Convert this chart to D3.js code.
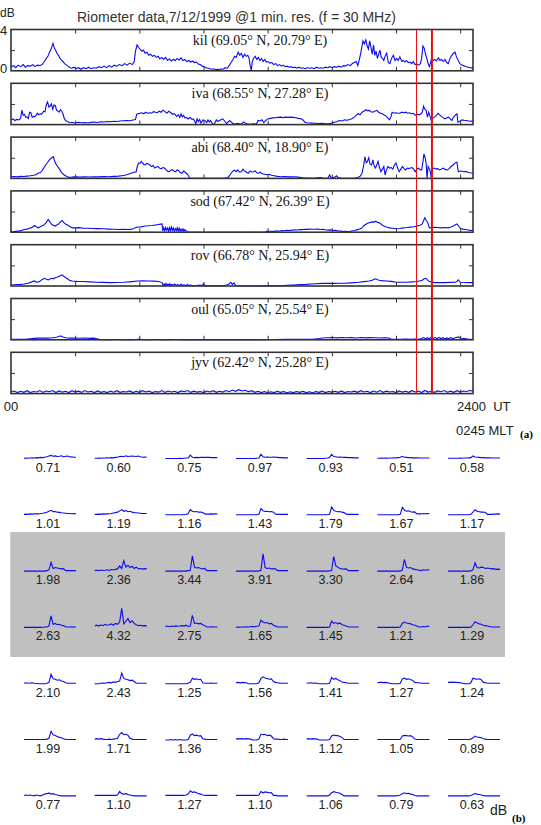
<!DOCTYPE html>
<html>
<head>
<meta charset="utf-8">
<script src="https://cdn.jsdelivr.net/npm/d3@7"></script>
<style>
  body { margin: 0; background: #fff; }
  svg { display: block; }
</style>
</head>
<body>
<svg id="chart" width="541" height="825"></svg>
<script>
// ---- data: riometer absorption (dB) per station, [minute UT, dB] ----
const stationLabels = ["kil (69.05° N, 20.79° E)", "iva (68.55° N, 27.28° E)", "abi (68.40° N, 18.90° E)",
  "sod (67.42° N, 26.39° E)", "rov (66.78° N, 25.94° E)", "oul (65.05° N, 25.54° E)", "jyv (62.42° N, 25.28° E)"];

const kil = [[0,0.4],[8,0.5],[15,0.3],[22,0.55],[30,0.4],[38,0.6],[45,0.35],[52,0.5],[60,0.45],[68,0.6],[75,0.4],[82,0.55],[90,0.5],[97,0.6],[104,0.9],[110,1.2],[115,1.4],[120,1.8],[125,2.1],[131,2.65],[135,2.2],[139,2.0],[143,1.7],[148,1.5],[153,1.2],[158,1.0],[162,0.9],[167,0.7],[171,0.6],[177,0.45],[184,0.3],[190,0.25],[196,0.35],[202,0.2],[210,0.3],[218,0.15],[226,0.3],[234,0.2],[242,0.35],[250,0.2],[258,0.3],[266,0.25],[274,0.4],[282,0.3],[290,0.45],[298,0.3],[306,0.5],[314,0.35],[322,0.55],[330,0.45],[338,0.6],[346,0.5],[354,0.7],[362,0.55],[370,0.75],[378,0.6],[384,0.9],[388,1.9],[393,2.5],[397,2.3],[402,2.1],[408,1.9],[413,2.0],[418,1.7],[424,1.8],[429,1.5],[435,1.6],[441,1.4],[447,1.5],[453,1.3],[459,1.4],[464,1.15],[470,1.3],[476,1.1],[482,1.3],[488,1.0],[494,1.15],[500,0.95],[506,1.1],[512,1.0],[518,1.2],[524,1.05],[530,1.25],[536,1.0],[542,1.1],[548,0.9],[554,1.0],[560,0.85],[566,0.95],[572,0.8],[578,0.85],[584,0.65],[590,0.6],[596,0.45],[602,0.4],[608,0.3],[614,0.25],[620,0.2],[626,0.15],[632,0.2],[638,0.1],[644,0.15],[650,0.1],[656,0.2],[662,0.15],[668,0.3],[674,0.25],[680,0.5],[686,0.8],[692,1.1],[697,1.4],[702,1.3],[708,1.8],[713,1.5],[718,1.7],[723,1.3],[728,1.6],[733,1.4],[738,1.5],[742,1.2],[746,0.4],[749,0.05],[752,0.9],[756,1.2],[761,1.4],[766,1.1],[771,1.3],[776,1.0],[781,1.2],[786,0.9],[791,1.1],[796,0.85],[801,0.9],[807,0.75],[813,0.8],[819,0.6],[825,0.7],[831,0.5],[837,0.6],[843,0.45],[849,0.55],[855,0.4],[861,0.45],[867,0.35],[873,0.4],[879,0.3],[885,0.35],[891,0.25],[897,0.35],[903,0.25],[910,0.3],[917,0.2],[924,0.3],[931,0.25],[938,0.3],[945,0.2],[952,0.35],[959,0.25],[966,0.3],[973,0.25],[980,0.35],[987,0.3],[994,0.4],[1001,0.3],[1008,0.4],[1015,0.35],[1022,0.45],[1029,0.35],[1036,0.5],[1043,0.45],[1050,0.6],[1057,0.5],[1064,0.7],[1070,0.8],[1076,0.9],[1081,0.5],[1088,1.4],[1093,2.2],[1097,2.9],[1101,2.6],[1106,3.0],[1110,2.4],[1114,2.1],[1118,2.9],[1122,2.3],[1126,1.6],[1130,2.5],[1134,1.5],[1138,1.9],[1142,1.2],[1146,1.6],[1150,2.0],[1154,1.3],[1158,1.2],[1162,1.0],[1166,1.4],[1171,1.7],[1176,0.8],[1181,0.7],[1186,1.2],[1192,1.5],[1197,1.0],[1202,1.2],[1207,1.0],[1212,1.35],[1218,0.9],[1223,1.0],[1228,0.85],[1233,1.0],[1238,0.8],[1244,0.85],[1249,0.7],[1254,0.9],[1259,0.6],[1264,0.65],[1270,0.55],[1276,0.7],[1280,1.2],[1284,2.4],[1288,2.2],[1292,1.6],[1296,1.2],[1300,0.7],[1304,0.4],[1308,0.8],[1311,1.2],[1316,1.0],[1321,1.1],[1326,0.95],[1332,1.25],[1337,1.0],[1342,1.1],[1347,0.9],[1353,1.1],[1358,0.8],[1363,0.7],[1368,1.2],[1374,1.5],[1379,1.7],[1384,1.8],[1389,1.3],[1394,1.0],[1399,0.7],[1405,0.55],[1410,0.5],[1415,0.45],[1420,0.4],[1426,0.35],[1431,0.3],[1436,0.28],[1440,0.26]];

const iva = [[0,0.45],[6,0.55],[12,0.4],[18,0.5],[24,0.45],[30,0.6],[34,1.4],[38,0.9],[42,1.0],[46,0.7],[50,0.75],[54,0.6],[58,1.2],[62,1.15],[66,0.7],[70,0.8],[74,0.75],[78,0.9],[82,1.1],[86,0.95],[90,1.05],[94,1.0],[98,1.1],[102,1.3],[106,1.25],[110,1.9],[114,2.2],[118,1.7],[122,1.8],[126,2.0],[130,1.5],[134,1.9],[138,1.85],[142,1.4],[146,1.3],[150,1.2],[154,1.45],[158,1.3],[162,1.05],[166,0.6],[170,0.4],[175,0.3],[181,0.22],[190,0.2],[200,0.15],[210,0.22],[220,0.18],[230,0.2],[240,0.15],[250,0.22],[260,0.25],[270,0.2],[280,0.27],[290,0.25],[300,0.3],[310,0.28],[320,0.33],[330,0.3],[340,0.35],[350,0.38],[360,0.4],[370,0.38],[380,0.45],[388,0.5],[392,1.0],[396,1.05],[402,1.1],[408,1.15],[414,1.05],[420,1.2],[426,1.1],[432,1.15],[438,1.1],[444,1.25],[450,1.2],[456,1.15],[462,1.3],[468,1.2],[474,1.4],[480,1.25],[486,1.1],[492,1.3],[498,1.15],[504,1.0],[510,1.05],[516,0.8],[522,0.95],[526,0.7],[530,1.05],[534,0.75],[538,0.9],[542,0.65],[546,0.7],[552,0.55],[558,0.7],[564,0.5],[568,0.55],[572,0.4],[576,0.05],[580,0.55],[584,0.3],[588,0.5],[592,0.13],[598,0.45],[604,0.4],[610,0.2],[614,0.45],[618,0.25],[622,0.4],[628,0.05],[634,0.07],[640,0.46],[644,0.3],[650,0.4],[656,0.5],[660,0.56],[666,0.35],[672,0.1],[676,0.23],[682,0.4],[688,0.2],[694,0.07],[700,0.05],[706,0.13],[712,0.07],[718,0.05],[724,0.23],[730,0.15],[736,0.08],[742,0.05],[748,0.02],[754,0.07],[760,0.05],[766,0.1],[770,0.4],[776,0.35],[782,0.46],[788,0.2],[794,0.4],[800,0.55],[808,0.6],[816,0.65],[824,0.66],[832,0.7],[840,0.72],[848,0.68],[856,0.72],[864,0.7],[872,0.72],[880,0.7],[888,0.66],[896,0.6],[904,0.56],[910,0.45],[916,0.23],[922,0.18],[930,0.16],[940,0.14],[950,0.13],[960,0.1],[970,0.12],[980,0.08],[990,0.07],[1000,0.15],[1008,0.23],[1016,0.3],[1024,0.4],[1032,0.35],[1040,0.46],[1048,0.42],[1056,0.5],[1064,0.6],[1070,0.72],[1076,0.9],[1082,1.05],[1088,0.95],[1094,1.2],[1100,1.3],[1106,1.45],[1110,1.35],[1116,1.38],[1122,1.25],[1128,1.2],[1134,1.3],[1140,1.38],[1146,1.2],[1152,1.1],[1158,1.05],[1164,0.9],[1170,0.8],[1176,0.6],[1180,0.46],[1184,0.72],[1188,1.2],[1194,1.1],[1200,1.15],[1206,1.1],[1212,1.1],[1218,1.2],[1224,1.15],[1230,1.2],[1236,1.1],[1242,1.15],[1248,1.05],[1254,1.1],[1260,0.9],[1266,1.0],[1272,0.95],[1278,1.05],[1282,1.2],[1286,1.77],[1290,1.5],[1294,1.38],[1298,0.72],[1302,1.2],[1306,0.8],[1310,0.4],[1314,0.6],[1320,0.72],[1326,0.9],[1331,1.1],[1336,0.95],[1341,0.8],[1346,0.7],[1352,0.56],[1358,0.65],[1363,0.72],[1368,0.6],[1374,0.4],[1379,0.7],[1384,0.9],[1390,1.05],[1393,0.23],[1398,0.3],[1406,0.46],[1412,0.42],[1418,0.4],[1424,0.38],[1430,0.33],[1436,0.35],[1440,0.33]];

const abi = [[0,0.15],[10,0.18],[20,0.15],[30,0.2],[40,0.18],[50,0.22],[60,0.25],[70,0.3],[78,0.35],[84,0.5],[90,0.55],[95,0.65],[100,0.9],[105,1.15],[110,1.4],[116,1.64],[121,1.85],[127,2.0],[132,2.1],[135,1.8],[138,1.5],[143,1.25],[149,1.0],[154,0.75],[159,0.5],[165,0.35],[170,0.26],[176,0.15],[181,0.1],[190,0.12],[200,0.15],[215,0.12],[230,0.15],[245,0.14],[260,0.16],[275,0.15],[290,0.17],[305,0.16],[320,0.2],[335,0.22],[345,0.26],[355,0.3],[365,0.4],[374,0.5],[383,0.6],[390,0.65],[394,1.2],[398,1.5],[402,1.45],[406,1.64],[410,1.5],[414,1.35],[418,1.3],[423,1.45],[428,1.4],[433,1.3],[438,1.15],[443,1.25],[448,1.0],[453,1.1],[458,1.15],[463,1.0],[468,0.92],[473,1.05],[478,1.0],[483,0.85],[488,0.7],[493,0.65],[498,0.8],[503,0.85],[508,0.7],[513,0.65],[518,0.82],[523,0.75],[528,0.55],[533,0.5],[538,0.72],[543,0.6],[548,0.45],[552,0.33],[556,0.07],[562,0.02],[575,0.01],[590,0.02],[605,0.01],[620,0.02],[635,0.01],[650,0.02],[665,0.03],[675,0.05],[681,0.26],[686,0.5],[692,0.72],[697,0.8],[702,0.65],[707,0.82],[712,0.6],[718,0.65],[723,0.9],[728,0.7],[734,0.6],[740,0.5],[745,0.72],[750,0.62],[756,0.65],[761,0.72],[766,0.55],[772,0.5],[777,0.6],[783,0.45],[790,0.4],[797,0.35],[804,0.4],[812,0.3],[820,0.26],[830,0.2],[840,0.16],[852,0.18],[865,0.15],[880,0.16],[895,0.12],[910,0.07],[925,0.04],[940,0.02],[955,0.05],[965,0.07],[975,0.02],[987,0.0],[993,0.33],[998,0.05],[1008,0.1],[1015,0.26],[1020,0.05],[1030,0.0],[1041,0.02],[1055,0.01],[1068,0.02],[1080,0.07],[1088,0.2],[1094,0.5],[1099,1.2],[1103,2.1],[1107,1.5],[1111,1.64],[1115,2.0],[1119,1.4],[1124,1.3],[1128,1.8],[1132,1.2],[1136,1.0],[1140,1.3],[1144,1.64],[1148,1.1],[1153,0.65],[1158,0.9],[1162,1.15],[1166,0.33],[1170,0.8],[1175,1.15],[1180,1.0],[1185,1.05],[1190,0.9],[1195,1.3],[1200,1.5],[1205,1.0],[1210,0.65],[1215,0.9],[1220,1.15],[1225,0.95],[1230,0.82],[1235,1.0],[1240,0.95],[1245,1.0],[1250,1.05],[1255,0.9],[1260,0.65],[1265,0.9],[1270,1.0],[1275,0.85],[1280,0.82],[1284,1.6],[1287,2.36],[1291,2.0],[1294,1.4],[1297,0.0],[1300,1.15],[1304,0.9],[1307,0.65],[1310,0.0],[1313,0.9],[1318,1.0],[1324,0.92],[1330,0.95],[1336,0.82],[1342,0.9],[1348,1.0],[1354,0.85],[1360,0.82],[1366,0.95],[1372,1.15],[1378,1.3],[1384,1.5],[1390,1.57],[1394,0.65],[1400,0.72],[1406,0.7],[1412,0.65],[1418,0.68],[1424,0.6],[1430,0.55],[1436,0.52],[1440,0.5]];

const sod = [[0,0.03],[10,0.06],[20,0.1],[30,0.15],[41,0.26],[50,0.3],[56,0.38],[62,0.42],[68,0.5],[73,0.65],[78,0.55],[84,0.42],[90,0.5],[95,0.6],[100,0.65],[105,0.75],[110,0.95],[116,1.24],[121,1.0],[127,0.75],[132,0.68],[138,0.6],[143,0.7],[149,0.8],[154,1.0],[159,1.14],[164,0.95],[170,0.8],[176,0.7],[181,0.6],[186,0.5],[191,0.42],[200,0.42],[213,0.44],[225,0.38],[240,0.38],[255,0.36],[270,0.35],[288,0.33],[305,0.3],[320,0.28],[335,0.26],[350,0.27],[365,0.26],[374,0.27],[382,0.35],[390,0.45],[396,0.5],[405,0.52],[417,0.6],[428,0.62],[439,0.65],[450,0.7],[460,0.75],[466,0.78],[471,0.8],[473,0.12],[476,0.42],[479,0.15],[482,0.45],[485,0.2],[488,0.4],[491,0.1],[494,0.45],[497,0.15],[500,0.5],[503,0.2],[506,0.4],[509,0.1],[512,0.35],[515,0.15],[518,0.42],[521,0.12],[524,0.38],[527,0.1],[530,0.3],[533,0.12],[536,0.32],[539,0.08],[542,0.25],[546,0.15],[550,0.02],[560,0.0],[600,0.0],[650,0.0],[700,0.0],[750,0.0],[793,0.01],[798,0.1],[804,0.05],[810,0.12],[816,0.06],[822,0.1],[828,0.12],[836,0.1],[844,0.16],[852,0.14],[860,0.18],[868,0.16],[876,0.2],[884,0.23],[892,0.22],[900,0.26],[908,0.25],[916,0.29],[924,0.27],[932,0.3],[940,0.28],[948,0.29],[956,0.3],[964,0.26],[972,0.27],[980,0.23],[988,0.2],[996,0.22],[1004,0.16],[1012,0.18],[1020,0.12],[1028,0.1],[1036,0.06],[1044,0.08],[1051,0.03],[1058,0.1],[1066,0.14],[1073,0.16],[1080,0.25],[1087,0.3],[1094,0.42],[1099,0.6],[1105,0.75],[1110,0.85],[1116,0.91],[1121,0.95],[1127,1.0],[1132,0.98],[1137,1.07],[1142,0.95],[1148,0.91],[1153,0.8],[1159,0.65],[1166,0.55],[1173,0.48],[1180,0.42],[1190,0.38],[1201,0.33],[1212,0.36],[1223,0.42],[1234,0.45],[1245,0.49],[1256,0.52],[1266,0.6],[1275,0.68],[1282,0.8],[1287,1.2],[1290,1.4],[1294,1.15],[1299,0.91],[1304,0.42],[1312,0.45],[1320,0.48],[1330,0.45],[1342,0.42],[1352,0.45],[1363,0.42],[1372,0.5],[1379,0.6],[1385,0.72],[1390,0.8],[1395,0.6],[1401,0.36],[1408,0.3],[1417,0.26],[1425,0.22],[1432,0.18],[1440,0.16]];

const rov = [[0,0.1],[10,0.12],[20,0.14],[30,0.16],[41,0.2],[52,0.26],[62,0.35],[68,0.45],[73,0.49],[78,0.4],[84,0.36],[90,0.45],[95,0.59],[100,0.68],[105,0.75],[110,0.65],[116,0.59],[121,0.68],[127,0.75],[132,0.7],[138,0.82],[143,0.85],[149,0.92],[154,1.0],[159,1.08],[164,0.95],[170,0.82],[176,0.7],[181,0.59],[186,0.52],[191,0.49],[205,0.45],[224,0.43],[245,0.4],[267,0.36],[288,0.35],[310,0.33],[330,0.34],[353,0.36],[375,0.42],[396,0.49],[410,0.5],[428,0.49],[445,0.47],[460,0.43],[471,0.33],[474,0.05],[477,0.2],[480,0.08],[483,0.25],[486,0.05],[489,0.18],[492,0.1],[495,0.22],[498,0.05],[501,0.15],[505,0.08],[510,0.2],[515,0.05],[520,0.15],[525,0.04],[530,0.18],[535,0.05],[540,0.12],[545,0.03],[550,0.16],[555,0.04],[560,0.1],[567,0.02],[578,0.05],[589,0.1],[595,0.02],[600,0.2],[605,0.02],[611,0.05],[625,0.02],[640,0.03],[655,0.02],[664,0.02],[672,0.1],[680,0.2],[685,0.35],[690,0.15],[695,0.3],[700,0.05],[710,0.02],[730,0.0],[760,0.0],[790,0.01],[820,0.02],[847,0.03],[858,0.06],[880,0.1],[901,0.13],[920,0.16],[933,0.2],[950,0.22],[970,0.25],[987,0.26],[1005,0.25],[1025,0.27],[1041,0.26],[1060,0.3],[1084,0.36],[1100,0.42],[1116,0.49],[1126,0.55],[1132,0.65],[1137,0.69],[1142,0.6],[1148,0.56],[1158,0.52],[1169,0.49],[1185,0.45],[1201,0.36],[1218,0.37],[1234,0.36],[1250,0.4],[1266,0.43],[1275,0.5],[1282,0.56],[1288,0.7],[1293,0.75],[1298,0.6],[1304,0.43],[1312,0.38],[1320,0.33],[1336,0.34],[1352,0.33],[1368,0.35],[1385,0.36],[1390,0.45],[1394,0.59],[1398,0.45],[1401,0.36],[1415,0.34],[1428,0.33],[1440,0.33]];

const oul = [[0,0.05],[15,0.04],[30,0.06],[45,0.05],[60,0.1],[73,0.14],[85,0.16],[100,0.18],[115,0.16],[130,0.2],[142,0.25],[150,0.34],[156,0.36],[162,0.28],[170,0.2],[185,0.16],[200,0.18],[215,0.15],[230,0.17],[245,0.14],[258,0.16],[267,0.1],[275,0.04],[300,0.02],[330,0.03],[360,0.02],[390,0.03],[400,0.08],[405,0.03],[420,0.02],[450,0.03],[480,0.02],[510,0.03],[540,0.02],[570,0.01],[600,0.02],[630,0.01],[660,0.02],[700,0.01],[740,0.02],[780,0.02],[820,0.03],[860,0.04],[900,0.05],[940,0.06],[962,0.12],[970,0.18],[985,0.2],[1000,0.22],[1015,0.19],[1030,0.22],[1045,0.2],[1060,0.21],[1075,0.18],[1090,0.22],[1105,0.19],[1120,0.21],[1135,0.2],[1150,0.18],[1165,0.2],[1178,0.17],[1185,0.05],[1200,0.06],[1215,0.05],[1230,0.08],[1245,0.06],[1260,0.07],[1270,0.05],[1280,0.12],[1286,0.22],[1292,0.1],[1298,0.2],[1304,0.08],[1310,0.25],[1316,0.12],[1322,0.22],[1328,0.1],[1334,0.24],[1340,0.12],[1346,0.2],[1352,0.08],[1358,0.18],[1364,0.1],[1370,0.22],[1376,0.12],[1385,0.2],[1395,0.28],[1402,0.1],[1412,0.12],[1424,0.08],[1440,0.06]];

// jyv sampled every 10 minutes
const jyvValues = [0.15,0.25,0.1,0.22,0.12,0.28,0.1,0.2,0.15,0.3,
  0.12,0.25,0.18,0.3,0.1,0.26,0.14,0.22,0.1,0.28,
  0.15,0.24,0.12,0.3,0.16,0.22,0.1,0.26,0.12,0.2,
  0.1,0.24,0.14,0.28,0.12,0.2,0.15,0.26,0.1,0.22,
  0.12,0.28,0.16,0.24,0.1,0.2,0.14,0.3,0.12,0.25,
  0.15,0.22,0.1,0.26,0.18,0.3,0.12,0.24,0.14,0.2,
  0.1,0.25,0.16,0.28,0.12,0.22,0.15,0.3,0.18,0.34,
  0.22,0.38,0.25,0.32,0.18,0.28,0.12,0.22,0.1,0.2,
  0.08,0.18,0.1,0.22,0.12,0.2,0.08,0.18,0.1,0.2,
  0.12,0.22,0.1,0.18,0.08,0.2,0.12,0.24,0.1,0.2,
  0.14,0.22,0.12,0.26,0.1,0.2,0.15,0.24,0.12,0.28,
  0.16,0.22,0.1,0.25,0.14,0.3,0.12,0.24,0.15,0.2,
  0.1,0.26,0.14,0.22,0.12,0.28,0.16,0.24,0.1,0.3,
  0.15,0.22,0.12,0.26,0.18,0.3,0.14,0.24,0.12,0.28,
  0.15,0.25,0.2,0.3,0.22];
const jyv = jyvValues.map((v, i) => [i * 10, v]);

const stationSeries = [kil, iva, abi, sod, rov, oul, jyv];
const xTickMinutes = [200, 400, 600, 800, 1000, 1200, 1400];
const markerMinutes = [1264, 1312];

// ---- data: (b) grid of small traces, peak absorption labels ----
const gridLabels = [
  ["0.71","0.60","0.75","0.97","0.93","0.51","0.58"],
  ["1.01","1.19","1.16","1.43","1.79","1.67","1.17"],
  ["1.98","2.36","3.44","3.91","3.30","2.64","1.86"],
  ["2.63","4.32","2.75","1.65","1.45","1.21","1.29"],
  ["2.10","2.43","1.25","1.56","1.41","1.27","1.24"],
  ["1.99","1.71","1.36","1.35","1.12","1.05","0.89"],
  ["0.77","1.10","1.27","1.10","1.06","0.79","0.63"]
];

const gridTraces = [
  [
    [0.05,0.1,0.05,0.1,0.15,0.1,0.2,0.15,0.25,0.2,0.3,0.4,0.55,0.71,0.5,0.6,0.45,0.5,0.6,0.4,0.5,0.55,0.35,0.4,0.3,0.3],
    [0.05,0.05,0.1,0.05,0.1,0.1,0.15,0.1,0.2,0.15,0.25,0.3,0.45,0.5,0.4,0.6,0.45,0.5,0.55,0.5,0.45,0.55,0.4,0.3,0.35,0.3],
    [0,0,0,0,0,0,0,0.05,0,0.05,0.1,0.1,0.75,0.3,0.2,0.25,0.2,0.25,0.3,0.25,0.3,0.25,0.2,0.2,0.2,0.2],
    [0,0,0,0,0,0,0,0,0,0,0.05,0.1,0.97,0.4,0.3,0.35,0.3,0.3,0.35,0.3,0.25,0.2,0.2,0.15,0.15,0.15],
    [0,0,0,0,0,0,0,0,0,0.05,0.1,0.2,0.93,0.45,0.4,0.3,0.35,0.3,0.25,0.25,0.2,0.2,0.2,0.15,0.15,0.15],
    [0.05,0.05,0.1,0.05,0.1,0.05,0.1,0.1,0.15,0.1,0.2,0.3,0.51,0.3,0.25,0.2,0.2,0.15,0.15,0.15,0.1,0.1,0.1,0.1,0.1,0.1],
    [0.05,0.05,0.05,0.05,0.05,0.05,0.1,0.05,0.1,0.1,0.15,0.2,0.58,0.35,0.3,0.25,0.2,0.2,0.15,0.15,0.15,0.1,0.1,0.1,0.1,0.1]
  ],
  [
    [0.1,0.15,0.1,0.2,0.15,0.2,0.25,0.2,0.3,0.35,0.45,0.6,0.8,1.01,0.7,0.75,0.6,0.55,0.45,0.4,0.35,0.3,0.3,0.25,0.3,0.25],
    [0.1,0.1,0.15,0.1,0.2,0.15,0.2,0.25,0.3,0.4,0.5,0.6,0.9,1.19,0.8,0.95,0.7,0.8,0.6,0.5,0.45,0.4,0.35,0.3,0.3,0.3],
    [0,0,0,0,0,0,0,0,0,0,0.05,0.3,1.16,0.8,0.7,0.75,0.6,0.65,0.5,0.2,0.15,0.15,0.2,0.15,0.2,0.2],
    [0,0,0,0,0,0,0,0,0,0,0,0.1,1.43,0.9,0.75,0.8,0.7,0.75,0.6,0.15,0.1,0.1,0.1,0.1,0.1,0.1],
    [0,0,0,0,0,0,0,0,0,0,0,0.1,1.79,1.0,0.8,0.7,0.75,0.6,0.5,0.15,0.1,0.1,0.1,0.1,0.1,0.1],
    [0,0,0,0,0,0,0,0,0,0,0,0.1,1.67,1.1,0.8,0.9,0.7,0.6,0.65,0.2,0.25,0.2,0.3,0.25,0.3,0.25],
    [0,0,0,0,0,0,0,0,0,0,0,0.1,0.6,1.17,0.8,0.7,0.6,0.65,0.5,0.1,0.1,0.1,0.15,0.15,0.2,0.15]
  ],
  [
    [0,0,0,0,0,0,0,0,0,0,0,0.1,0.3,1.98,0.6,0.8,0.7,0.6,0.5,0.55,0.1,0.1,0.1,0.1,0.1,0.1],
    [0.1,0.2,0.1,0.25,0.15,0.2,0.3,0.15,0.35,0.25,0.4,0.5,1.2,0.6,2.36,0.9,1.3,0.8,1.1,0.6,0.9,0.5,0.6,0.45,0.55,0.5],
    [0,0,0,0,0,0,0,0,0,0,0,0.1,0.2,3.44,0.9,0.7,0.8,0.6,0.5,0.6,0.1,0.1,0.1,0.15,0.1,0.1],
    [0,0,0,0,0,0,0,0,0,0,0,0.05,0.2,3.91,0.8,0.6,0.7,0.5,0.55,0.5,0.1,0.1,0.15,0.1,0.1,0.1],
    [0,0,0,0,0,0,0,0,0,0,0,0.05,0.2,3.30,1.2,0.9,0.6,0.5,0.45,0.5,0.1,0.1,0.1,0.1,0.1,0.1],
    [0,0,0,0,0,0,0,0,0,0,0,0,0.2,2.64,0.9,0.7,0.8,0.5,0.4,0.3,0.2,0.1,0.3,0.2,0.3,0.25],
    [0,0,0,0,0,0,0,0,0,0,0,0.05,0.3,1.86,0.8,0.7,0.9,0.8,0.6,0.7,0.6,0.5,0.55,0.4,0.45,0.4]
  ],
  [
    [0,0,0,0,0,0,0,0,0,0.05,0.1,0.1,0.3,2.63,0.7,0.9,0.6,0.7,0.5,0.4,0.1,0.1,0.1,0.15,0.1,0.1],
    [0.3,0.5,0.3,0.6,0.4,0.7,0.5,0.6,0.8,0.5,0.9,0.7,1.2,4.32,0.8,1.4,2.0,1.1,1.5,0.9,0.6,0.4,0.5,0.35,0.4,0.35],
    [0.2,0.3,0.15,0.3,0.2,0.35,0.25,0.3,0.4,0.3,0.5,0.2,0.3,2.75,0.9,1.0,0.8,0.9,0.6,0.4,0.1,0.1,0.15,0.1,0.1,0.1],
    [0.05,0.1,0.05,0.1,0.1,0.15,0.1,0.15,0.2,0.15,0.25,0.3,1.65,1.2,1.0,1.1,0.8,0.9,0.5,0.3,0.1,0.1,0.1,0.1,0.1,0.1],
    [0,0,0,0,0,0,0,0,0,0,0,0.1,1.45,0.9,1.1,0.8,1.0,0.6,0.5,0.3,0.1,0.1,0.1,0.1,0.1,0.1],
    [0,0,0,0,0,0,0,0,0,0,0,0.1,0.9,1.21,1.0,0.9,0.8,0.6,0.5,0.3,0.1,0.1,0.2,0.1,0.3,0.2],
    [0,0,0,0,0,0,0,0,0,0,0,0.05,0.6,1.29,1.0,0.8,0.7,0.5,0.4,0.3,0.2,0.1,0.1,0.1,0.1,0.1]
  ],
  [
    [0.1,0.2,0.1,0.15,0.2,0.1,0.05,0,0,0,0,0.1,0.3,2.10,1.1,1.0,0.8,0.9,0.6,0.5,0.2,0.1,0.1,0.1,0.1,0.1],
    [0,0,0,0.1,0.15,0.1,0.2,0.3,0.2,0.4,0.3,0.5,0.6,2.43,1.2,1.0,0.9,0.7,0.8,0.5,0.1,0.1,0.1,0.1,0.1,0.1],
    [0,0,0,0,0,0,0,0,0,0,0,0.1,0.3,1.25,1.0,1.1,0.9,1.0,0.2,0.1,0.1,0.1,0.15,0.1,0.1,0.1],
    [0.2,0.3,0.2,0.3,0.25,0.2,0,0,0,0,0,0.2,1.2,1.56,1.3,1.2,1.0,1.1,0.5,0.3,0.2,0.1,0.1,0.1,0.1,0.1],
    [0.1,0.15,0.2,0.1,0.15,0.1,0,0,0,0,0,0.1,1.41,1.0,1.2,0.9,0.7,0.4,0.3,0.2,0.1,0.1,0.1,0.1,0.1,0.1],
    [0.2,0.3,0.3,0.25,0.3,0.2,0.1,0,0,0,0,0.1,1.1,1.27,1.0,1.1,0.9,0.8,0.3,0.2,0.2,0.1,0.1,0.1,0.1,0.1],
    [0.3,0.3,0.35,0.3,0.3,0.25,0.2,0.1,0,0,0,0.2,1.24,1.1,1.0,1.1,0.9,0.3,0.2,0.1,0.1,0.1,0.1,0.1,0.1,0.1]
  ],
  [
    [0.1,0.1,0.1,0.1,0.1,0.1,0.1,0.1,0.1,0.1,0.1,0.2,0.4,1.99,1.2,1.0,0.8,0.6,0.5,0.3,0.1,0.1,0.1,0.1,0.1,0.1],
    [0.2,0.3,0.2,0.3,0.2,0.1,0.1,0.2,0.1,0.2,0.3,0.4,1.3,1.71,1.2,1.3,1.1,0.4,0.2,0.1,0.1,0.1,0.1,0.1,0.1,0.1],
    [0,0,0,0.1,0,0.1,0,0.1,0,0,0,0.1,1.1,1.36,1.0,1.1,0.9,1.0,0.3,0.2,0.1,0.1,0.1,0.1,0.1,0.1],
    [0.2,0.3,0.25,0.3,0.2,0.3,0.25,0.2,0,0,0,0.2,1.35,1.2,1.3,1.0,1.1,0.9,0.3,0.2,0.2,0.1,0.1,0.2,0.1,0.1],
    [0.2,0.3,0.2,0.3,0.25,0.2,0,0,0,0,0,0.1,0.9,1.12,1.0,1.0,0.8,0.6,0.1,0.1,0.1,0.1,0.1,0.1,0.1,0.1],
    [0.1,0.1,0.1,0.1,0.1,0.1,0.1,0.1,0.1,0.1,0.1,0.1,0.9,1.05,1.0,0.9,1.0,0.7,0.2,0.1,0.1,0.1,0.1,0.1,0.1,0.1],
    [0.1,0.1,0.1,0.1,0.1,0.1,0.1,0.1,0.1,0.1,0.1,0.2,0.5,0.89,0.7,0.6,0.5,0.3,0.2,0.1,0.1,0.1,0.1,0.1,0.1,0.1]
  ],
  [
    [0.2,0.3,0.2,0.3,0.2,0.1,0.3,0.2,0.1,0.3,0.5,0.6,0.77,0.5,0.6,0.4,0.3,0.2,0.1,0.1,0.1,0.1,0.1,0.1,0.1,0.1],
    [0.2,0.2,0.2,0.2,0.2,0.2,0.2,0.2,0.2,0.2,0.2,0.3,1.10,0.6,0.5,0.6,0.4,0.3,0.2,0.1,0.1,0.1,0.1,0.1,0.1,0.1],
    [0.2,0.2,0.2,0.2,0.2,0.2,0.2,0.2,0.2,0.2,0.3,0.5,1.27,0.9,1.0,0.8,0.6,0.5,0.3,0.2,0.2,0.2,0.2,0.2,0.2,0.2],
    [0.2,0.2,0.2,0.2,0.2,0.2,0.2,0.2,0.2,0.2,0.2,0.3,1.10,0.8,1.0,0.9,0.8,0.85,0.2,0.2,0.1,0.1,0.1,0.1,0.1,0.1],
    [0.1,0.1,0.1,0.1,0.1,0.1,0.1,0.1,0.1,0.1,0.1,0.3,0.8,1.06,0.9,0.8,0.7,0.4,0.1,0.1,0.1,0.1,0.1,0.1,0.1,0.1],
    [0.1,0.1,0.1,0.1,0.1,0.1,0.1,0.1,0.1,0.1,0.2,0.3,0.6,0.79,0.6,0.7,0.5,0.4,0.2,0.1,0.1,0.1,0.1,0.1,0.1,0.1],
    [0.1,0.1,0.1,0.1,0.1,0.1,0.1,0.1,0.1,0.1,0.1,0.2,0.4,0.63,0.5,0.4,0.3,0.2,0.1,0.1,0.1,0.1,0.1,0.1,0.1,0.1]
  ]
];

// ---- drawing ----
const svg = d3.select("#chart");
const blue = "#0a0af0";
const sans = "'Liberation Sans', Arial, sans-serif";
const serif = "'Liberation Serif', 'Times New Roman', serif";

const panelTop0 = 29.5, panelStep = 53.8, panelH = 41.3;
const x = d3.scaleLinear().domain([0, 1440]).range([11, 473]);

svg.append("text")
    .attr("x", 77).attr("y", 22)
    .attr("font-family", sans).attr("font-size", 14).attr("fill", "#333")
    .text("Riometer data,7/12/1999 @1 min. res. (f = 30 MHz)");

svg.append("text").attr("x", 0).attr("y", 17)
    .attr("font-family", sans).attr("font-size", 12).attr("fill", "#222").text("dB");

stationSeries.forEach((series, i) => {
    const top = panelTop0 + i * panelStep;
    const y = d3.scaleLinear().domain([0, 4]).range([top + panelH, top]);
    const g = svg.append("g");

    g.append("path")
        .datum(series)
        .attr("fill", "none")
        .attr("stroke", blue)
        .attr("stroke-width", 1.1)
        .attr("d", d3.line().x(d => x(d[0])).y(d => y(d[1])));

    // inward ticks on all four sides
    g.append("g").attr("transform", `translate(0,${top})`)
        .call(d3.axisBottom(x).tickValues(xTickMinutes).tickSize(4).tickFormat(""));
    g.append("g").attr("transform", `translate(0,${top + panelH})`)
        .call(d3.axisTop(x).tickValues(xTickMinutes).tickSize(4).tickFormat(""));
    g.append("g").attr("transform", `translate(${x(0)},0)`)
        .call(d3.axisRight(y).tickValues([2]).tickSize(4).tickFormat(""));
    g.append("g").attr("transform", `translate(${x(1440)},0)`)
        .call(d3.axisLeft(y).tickValues([2]).tickSize(4).tickFormat(""));
    g.selectAll(".domain").remove();
    g.selectAll(".tick line").attr("stroke", "#333");

    g.append("rect")
        .attr("x", x(0)).attr("y", top)
        .attr("width", x(1440) - x(0)).attr("height", panelH)
        .attr("fill", "none").attr("stroke", "#333").attr("stroke-width", 1.6);

    g.append("text")
        .attr("x", 260).attr("y", top + 15)
        .attr("text-anchor", "middle")
        .attr("font-family", serif).attr("font-size", 14).attr("fill", "#111")
        .text(stationLabels[i]);

    if (i === 0) {
        g.append("text").attr("x", 0).attr("y", y(4) + 5)
            .attr("font-family", sans).attr("font-size", 13).attr("fill", "#222").text("4");
        g.append("text").attr("x", 0).attr("y", y(0) + 2)
            .attr("font-family", sans).attr("font-size", 13).attr("fill", "#222").text("0");
    }
});

// red markers through all panels
const lastBottom = panelTop0 + 6 * panelStep + panelH;
svg.selectAll(".marker")
    .data(markerMinutes)
    .enter().append("line")
    .attr("class", "marker")
    .attr("x1", d => x(d)).attr("x2", d => x(d))
    .attr("y1", panelTop0).attr("y2", lastBottom)
    .attr("stroke", "#e01010")
    .attr("stroke-width", (d, i) => i === 0 ? 1 : 2);

svg.append("text").attr("x", x(0)).attr("y", 411)
    .attr("text-anchor", "middle")
    .attr("font-family", sans).attr("font-size", 13).attr("fill", "#222").text("00");
svg.append("text").attr("x", 457).attr("y", 411)
    .attr("font-family", sans).attr("font-size", 13).attr("fill", "#222")
    .attr("xml:space", "preserve").text("2400  UT");
svg.append("text").attr("x", 456).attr("y", 435)
    .attr("font-family", sans).attr("font-size", 13).attr("fill", "#222").text("0245 MLT");
svg.append("text").attr("x", 520).attr("y", 438)
    .attr("font-family", serif).attr("font-size", 11).attr("font-weight", "bold").text("(a)");

// ---- (b) grid ----
const colX = d3.scaleLinear().domain([0, 6]).range([50, 474]);
const rowY = d3.scaleLinear().domain([0, 6]).range([458.5, 796.3]);
const ampPerDb = 4.4;

svg.append("rect")
    .attr("x", 10.3).attr("y", 532)
    .attr("width", 505 - 10.3).attr("height", 657 - 532)
    .attr("fill", "#c0c0c0");

gridTraces.forEach((row, r) => {
    row.forEach((trace, c) => {
        const cx = colX(c), base = rowY(r);
        const sx = d3.scaleLinear().domain([0, trace.length - 1]).range([cx - 26, cx + 26]);
        const sy = d3.scaleLinear().domain([0, 1]).range([base, base - ampPerDb]);
        svg.append("path")
            .datum(trace)
            .attr("fill", "none")
            .attr("stroke", blue)
            .attr("stroke-width", 1.1)
            .attr("d", d3.line().x((d, k) => sx(k)).y(d => sy(d)));
        svg.append("text")
            .attr("x", cx - 2).attr("y", base + 13)
            .attr("text-anchor", "middle")
            .attr("font-family", sans).attr("font-size", 12.5).attr("fill", "#222")
            .text(gridLabels[r][c]);
    });
});

svg.append("text").attr("x", 490).attr("y", 815)
    .attr("font-family", sans).attr("font-size", 14).attr("fill", "#222").text("dB");
svg.append("text").attr("x", 512).attr("y", 822)
    .attr("font-family", serif).attr("font-size", 11).attr("font-weight", "bold").text("(b)");
</script>
</body>
</html>
